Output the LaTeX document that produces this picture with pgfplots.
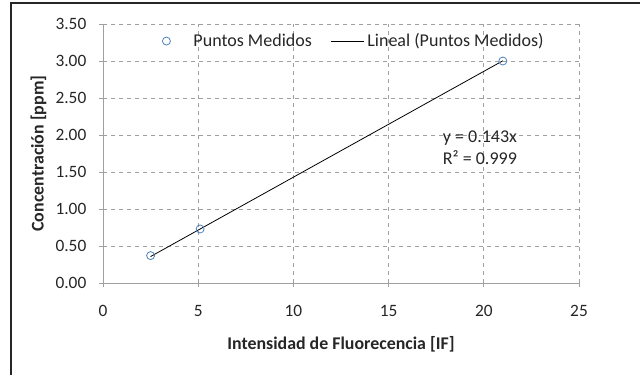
\documentclass[border=0pt]{standalone}
\usepackage{pgfplots}
\pgfplotsset{compat=1.18}
\usepackage{fontspec}
\setmainfont{Carlito}
\definecolor{xlblue}{RGB}{79,129,189}
\definecolor{gridgray}{RGB}{160,160,160}
\pgfplotsset{
  markleg/.style={legend image code/.code={\path (-3.5pt,0pt) (18pt,0pt);
    \draw[##1] plot coordinates {(0pt,0pt)};}},
  lineleg/.style={legend image code/.code={\draw[##1] (0pt,0pt) -- (25pt,0pt);}},
}
\begin{document}
\begin{tikzpicture}
\useasboundingbox (0pt,0pt) rectangle (480pt,281.25pt);
\draw[line width=1.6pt,black!85] (8.25pt,0pt) -- (8.25pt,279pt) -- (481pt,279pt);
\begin{axis}[
  at={(77.25pt,69pt)}, anchor=south west,
  scale only axis,
  width=357pt, height=194.25pt,
  xmin=0, xmax=25, ymin=0, ymax=3.5,
  xtick={0,5,...,25},
  ytick={0,0.5,...,3.5},
  /pgf/number format/assume math mode=true,
  yticklabel style={/pgf/number format/.cd,fixed,fixed zerofill,precision=2},
  ticklabel style={font=\fontsize{13}{15}\selectfont, text=black!85},
  grid=major,
  major grid style={dashed, gridgray, line width=0.5pt},
  axis line style={draw=none},
  tick style={gridgray, line width=0.6pt},
  major tick length=3pt,
  tick align=outside,
  xtick pos=bottom, ytick pos=left,
  xticklabel shift=10pt,
  yticklabel shift=6pt,
  xlabel={\textbf{Intensidad de Fluorecencia [IF]}},
  ylabel={\textbf{Concentración [ppm]}},
  label style={font=\fontsize{13.4}{16}\selectfont, text=black!85},
  xlabel style={yshift=-8pt},
  ylabel style={yshift=0pt},
  legend columns=2,
  legend style={draw=none, fill=none, at={(0.527,0.985)}, anchor=north,
    font=\fontsize{13.5}{15}\selectfont, text=black!85,
    /tikz/every even column/.append style={column sep=12pt}},
  clip=false,
]
\draw[gridgray, line width=0.7pt] (axis cs:0,0) -- (axis cs:25,0);
\draw[gridgray, line width=0.7pt] (axis cs:0,0) -- (axis cs:0,3.5);
\addplot[only marks, mark=o, mark size=3pt, xlblue, line width=0.6pt, markleg]
  coordinates {(2.5,0.37) (5.1,0.73) (21.0,3.00)};
\addlegendentry{Puntos Medidos}
\addplot[black, line width=0.6pt, lineleg]
  coordinates {(2.5,0.3575) (21.0,3.003)};
\addlegendentry{Lineal (Puntos Medidos)}
\node[font=\fontsize{13.5}{16}\selectfont, text=black!85, align=left, anchor=center]
  at (axis cs:19.8,1.83) {y = 0.143x\\R² = 0.999};
\end{axis}
\end{tikzpicture}
\end{document}
